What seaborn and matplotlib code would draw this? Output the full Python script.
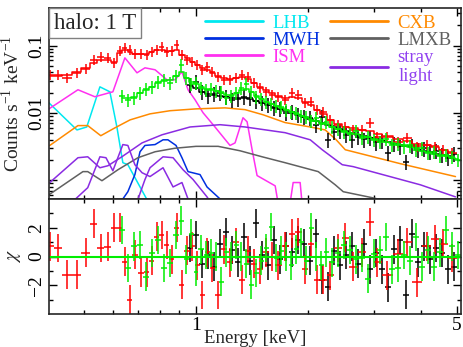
import numpy as np
import matplotlib
matplotlib.use('Agg')
import matplotlib.pyplot as plt
import seaborn as sns
from matplotlib.lines import Line2D
from matplotlib.ticker import LogLocator, NullFormatter, FuncFormatter, FixedLocator

# ---- observed spectra (energy keV, counts/s/keV) ----
red_e = [0.406, 0.427, 0.451, 0.480, 0.507, 0.533, 0.556, 0.581, 0.603, 0.626,
         0.645, 0.666, 0.686, 0.712, 0.739, 0.762, 0.786, 0.811, 0.836, 0.862,
         0.889, 0.917, 0.946, 0.976, 1.006, 1.038, 1.070, 1.104, 1.146, 1.189,
         1.233, 1.280, 1.328, 1.378, 1.431, 1.484, 1.540, 1.598, 1.659, 1.732,
         1.808, 1.877, 1.960, 2.034, 2.111, 2.191, 2.287, 2.403, 2.509, 2.636,
         2.786, 2.928, 3.057, 3.252, 3.480, 3.679, 3.913, 4.162, 4.373, 4.595,
         4.857]
red_data = [0.0368, 0.0368, 0.0332, 0.0394, 0.0452, 0.0614, 0.068, 0.0657, 0.0554, 0.0835,
            0.0925, 0.0864, 0.0754, 0.0754, 0.0728, 0.0807, 0.0864, 0.0957, 0.0807, 0.0835,
            0.1024, 0.0728, 0.0614, 0.0573, 0.0518, 0.0437, 0.0484, 0.0408, 0.0344, 0.0310,
            0.0310, 0.0332, 0.0368, 0.0344, 0.0280, 0.0236, 0.0206, 0.0186, 0.0174, 0.0157,
            0.0199, 0.0186, 0.0142, 0.0147, 0.0112, 0.0104, 0.0079, 0.0067, 0.0062, 0.0056,
            0.0056, 0.0072, 0.0044, 0.0044, 0.0037, 0.0043, 0.0032, 0.0034, 0.0032, 0.00285,
            0.00257]
red_model = [0.0356, 0.0356, 0.0368, 0.0408, 0.0467, 0.0554, 0.0614, 0.0614, 0.0573, 0.0779,
             0.0864, 0.0807, 0.0754, 0.0754, 0.0754, 0.0807, 0.0864, 0.0864, 0.0835, 0.0835,
             0.0864, 0.0728, 0.0657, 0.0573, 0.0518, 0.0467, 0.0437, 0.0394, 0.0356, 0.0332,
             0.0321, 0.0332, 0.0344, 0.0321, 0.0280, 0.0244, 0.0221, 0.0199, 0.0180, 0.0168,
             0.0174, 0.0168, 0.0147, 0.0132, 0.0112, 0.0097, 0.0079, 0.0069, 0.0062, 0.0060,
             0.0056, 0.0054, 0.0049, 0.0046, 0.0041, 0.0039, 0.0035, 0.0033, 0.0031, 0.00285,
             0.00266]
red_chi = [0.7, 0.6, -1.27, -1.27, 0.26, 2.27, 0.6, 0.67, 2.0, 2.0,
           -0.37, -3.0, 0.12, -1.13, -1.1, -0.3, 1.37, 1.5, 0.8, -0.2,
           2.0, -1.97, 0.4, 0.7, -0.6, -2.67, 0.3, -0.8, -2.67, 0.5,
           -0.4, 1.0, -1.6, 0.4, -0.5, -0.9, 0.3, 0.0, -0.6, 0.7,
           1.6, 1.7, -0.9, 0.9, -1.6, -1.6, -1.3, 0.6, 1.3, -0.7,
           0.3, 2.4, -0.4, -1.3, 0.2, 1.0, -1.8, 0.7, 1.2, 0.9,
           -0.1]

green_e = [0.633, 0.657, 0.682, 0.708, 0.734, 0.762, 0.791, 0.821, 0.852, 0.884,
           0.912, 0.940, 0.970, 1.000, 1.031, 1.064, 1.097, 1.131, 1.167, 1.203,
           1.241, 1.280, 1.320, 1.361, 1.404, 1.448, 1.494, 1.540, 1.589, 1.639,
           1.690, 1.743, 1.798, 1.854, 1.912, 1.972, 2.034, 2.098, 2.164, 2.232,
           2.316, 2.403, 2.494, 2.588, 2.685, 2.786, 2.892, 3.001, 3.114, 3.231,
           3.353, 3.480, 3.611, 3.747, 3.889, 4.035, 4.188, 4.346, 4.510, 4.680,
           4.857, 5.040]
green_data = [0.0180, 0.0157, 0.0168, 0.0199, 0.0228, 0.0244, 0.0290, 0.0310, 0.0280, 0.0356,
              0.0518, 0.0332, 0.0271, 0.0280, 0.0236, 0.0221, 0.0228, 0.0213, 0.0206, 0.0168,
              0.0180, 0.0199, 0.0236, 0.0271, 0.0206, 0.0174, 0.0162, 0.0147, 0.0137, 0.0128,
              0.0124, 0.0112, 0.0104, 0.0101, 0.0091, 0.0088, 0.0077, 0.0085, 0.0069, 0.0074,
              0.0062, 0.0058, 0.0053, 0.0049, 0.0054, 0.0043, 0.0044, 0.0040, 0.0037, 0.0041,
              0.0034, 0.0035, 0.0032, 0.0033, 0.00285, 0.0030, 0.00257, 0.00266, 0.00232, 0.0024,
              0.00224, 0.00203]
green_model = [0.0168, 0.0168, 0.0174, 0.0199, 0.0221, 0.0244, 0.0280, 0.0300, 0.0310, 0.0356,
               0.0408, 0.0332, 0.0290, 0.0271, 0.0244, 0.0228, 0.0221, 0.0213, 0.0199, 0.0186,
               0.0186, 0.0199, 0.0221, 0.0228, 0.0206, 0.0180, 0.0162, 0.0147, 0.0137, 0.0128,
               0.0119, 0.0112, 0.0104, 0.0097, 0.0091, 0.0085, 0.0079, 0.0077, 0.0072, 0.0069,
               0.0062, 0.0058, 0.0054, 0.0051, 0.0049, 0.0046, 0.0044, 0.0041, 0.0040, 0.0037,
               0.0036, 0.0034, 0.0033, 0.0031, 0.0030, 0.00275, 0.00266, 0.00249, 0.0024, 0.00232,
               0.00217, 0.0021]
green_chi = [1.85, -0.8, 0.7, 0.8, -1.4, 0.25, 1.15, -0.8, -0.45, 1.5,
             2.5, -0.2, 1.6, -1.05, 0.5, 0.1, 0.25, 0.0, -1.75, 0.3,
             0.0, 0.8, 0.0, -0.5, -1.95, -1.15, -0.3, 0.6, 2.05, -0.1,
             0.4, 0.0, -0.6, 0.5, 1.0, -0.3, 2.0, 0.0, -0.6, 0.3,
             -0.4, 0.25, 0.8, 0.45, -0.2, -0.1, -1.55, 0.2, 0.45, 1.35,
             -0.9, -0.8, 0.1, -0.3, 1.35, -0.7, 0.45, -0.7, 0.3, 1.85,
             0.7, 0.1]

black_e = [0.964, 1.000, 1.038, 1.077, 1.117, 1.160, 1.203, 1.249, 1.296, 1.345,
           1.396, 1.448, 1.503, 1.560, 1.619, 1.680, 1.743, 1.809, 1.877, 1.948,
           2.022, 2.098, 2.177, 2.259, 2.344, 2.433, 2.524, 2.620, 2.719, 2.821,
           2.928, 3.039, 3.153, 3.272, 3.396, 3.524, 3.656, 3.795, 3.937, 4.086,
           4.240, 4.400, 4.566, 4.738, 4.917]
black_data = [0.0262, 0.0290, 0.0206, 0.0180, 0.0193, 0.0199, 0.0174, 0.0157, 0.0162, 0.0174,
              0.0168, 0.0152, 0.0142, 0.0132, 0.0119, 0.0115, 0.0101, 0.0104, 0.0094, 0.0088,
              0.0085, 0.0067, 0.0088, 0.0040, 0.0053, 0.0054, 0.00475, 0.0040, 0.0044, 0.0041,
              0.0043, 0.0037, 0.0039, 0.00257, 0.0035, 0.0032, 0.00189, 0.0033, 0.00285, 0.0030,
              0.00266, 0.00275, 0.0024, 0.00217, 0.00249]
black_model = [0.0253, 0.0236, 0.0206, 0.0193, 0.0186, 0.0180, 0.0174, 0.0168, 0.0168, 0.0168,
               0.0162, 0.0152, 0.0142, 0.0132, 0.0124, 0.0115, 0.0108, 0.0101, 0.0094, 0.0088,
               0.0082, 0.0077, 0.0072, 0.0067, 0.0062, 0.0058, 0.0054, 0.0051, 0.00475, 0.0046,
               0.0043, 0.0041, 0.0039, 0.0037, 0.0035, 0.0034, 0.0032, 0.0031, 0.00285, 0.00275,
               0.00266, 0.00249, 0.0024, 0.00232, 0.00217]
black_chi = [0.6, 1.5, -0.5, 0.1, -0.7, 0.9, 1.7, 0.45, -0.4, 1.35,
             -0.3, 2.3, 0.1, -0.6, 1.15, -0.2, 0.7, 0.3, 1.15, 0.9,
             -0.3, 1.6, -1.6, -2.1, 0.4, -0.6, 0.1, 0.7, -0.5, 0.9,
             -0.9, 0.25, -0.9, -2.15, 0.5, 1.15, -2.65, 1.6, -0.4, 0.7,
             -0.2, 0.6, 0.25, -0.9, -0.7]

# rough fractional 1-sigma errors of the spectra
red_frac_err = 0.17
green_frac_err = 0.22
black_frac_err = 0.25

# ---- model components ----
lhb_e = [0.4035, 0.480, 0.510, 0.553, 0.588, 0.614, 0.637, 0.657, 0.739, 0.762]
lhb_v = [0.0142, 0.0056, 0.0062, 0.0244, 0.0206, 0.0062, 0.00183, 0.00171, 0.00052, 0.00031]

ism_e = [0.401, 0.483, 0.536, 0.599, 0.645, 0.695, 0.730, 0.777, 0.836, 0.878,
         0.917, 0.952, 0.994, 1.044, 1.124, 1.233, 1.272, 1.336, 1.370, 1.413,
         1.457, 1.629, 1.680, 1.765, 1.820, 1.900, 1.936]
ism_v = [0.0112, 0.0221, 0.0174, 0.0206, 0.0657, 0.0394, 0.0467, 0.0437, 0.0310, 0.0310,
         0.0408, 0.0221, 0.0157, 0.0101, 0.0062, 0.0033, 0.0036, 0.0085, 0.0074, 0.00285,
         0.00118, 0.00083, 0.0003, 0.0003, 0.00093, 0.00093, 0.0003]

mwh_e = [0.629, 0.657, 0.686, 0.708, 0.730, 0.777, 0.816, 0.841, 0.884, 0.917,
         0.952, 1.025, 1.070, 1.160, 1.189]
mwh_v = [0.00048, 0.00068, 0.00122, 0.00266, 0.0033, 0.0034, 0.0040, 0.0040, 0.0033, 0.00217,
         0.00135, 0.00122, 0.0008, 0.00053, 0.00044]

cxb_e = [0.406, 0.483, 0.513, 0.556, 0.606, 0.666, 0.753, 0.852, 1.0, 1.196,
         1.353, 1.512, 1.732, 2.022, 2.218, 2.373, 2.509, 3.524, 4.950]
cxb_v = [0.0033, 0.0065, 0.0065, 0.0046, 0.0060, 0.0079, 0.0097, 0.0108, 0.0115, 0.0119,
         0.0112, 0.0094, 0.0072, 0.0062, 0.0056, 0.0040, 0.00285, 0.00177, 0.00114]

lmxb_e = [0.4035, 0.498, 0.513, 0.560, 0.618, 0.699, 0.777, 0.878, 1.0, 1.146,
          1.312, 1.503, 1.732, 2.124, 2.359, 2.478, 2.982, 3.524]
lmxb_v = [0.00061, 0.00135, 0.00135, 0.00099, 0.00144, 0.00217, 0.00266, 0.0030, 0.0032, 0.0032,
          0.00275, 0.00224, 0.00183, 0.00135, 0.00086, 0.00068, 0.00055, 0.00044]

stray1_e = [0.406, 0.483, 0.513, 0.553, 0.581, 0.633, 0.717, 0.811, 0.964, 1.160,
            1.353, 1.732, 2.022, 2.177, 2.463, 2.636, 3.988, 4.950]
stray1_v = [0.00093, 0.00217, 0.00224, 0.00154, 0.00165, 0.00224, 0.0036, 0.00475, 0.0062, 0.0067,
            0.0062, 0.0051, 0.0040, 0.00285, 0.00171, 0.0016, 0.00086, 0.00057]
stray2_e = [0.474, 0.513, 0.553, 0.574, 0.599, 0.637, 0.657, 0.686, 0.717, 0.753,
            0.816, 0.868, 0.917, 0.952, 0.976]
stray2_v = [0.00052, 0.00078, 0.00224, 0.00217, 0.00139, 0.0034, 0.0033, 0.00171, 0.0013, 0.00114,
            0.00154, 0.0008, 0.00093, 0.00053, 0.00036]
stray3_e = [0.695, 0.730, 0.753, 0.816, 0.868, 0.923, 0.982, 1.070, 1.104]
stray3_v = [0.00048, 0.00103, 0.00154, 0.00224, 0.00217, 0.00144, 0.00103, 0.00057, 0.00044]

C_LHB, C_MWH, C_ISM = '#00e8f0', '#0030e0', '#ff30f0'
C_CXB, C_LMXB, C_STRAY = '#ff8a00', '#606060', '#8a2be2'
C_RED, C_GREEN, C_BLACK = '#ff0000', '#00ee00', '#000000'


def halfwidths(e):
    e = np.asarray(e, float)
    mid = np.sqrt(e[1:] * e[:-1])
    lo = np.concatenate([[e[0] ** 2 / mid[0]], mid])
    hi = np.concatenate([mid, [e[-1] ** 2 / mid[-1]]])
    return np.vstack([e - lo, hi - e])


sns.set_theme(style='ticks')
plt.rcParams['font.family'] = ['Liberation Serif', 'DejaVu Serif']
plt.rcParams['mathtext.fontset'] = 'stix'
plt.rcParams['axes.linewidth'] = 1.2

fig = plt.figure(figsize=(4.63, 3.47), dpi=100)
ax = fig.add_axes([0.1058, 0.4265, 0.8898, 0.5504])
ax2 = fig.add_axes([0.1058, 0.0951, 0.8898, 0.3314], sharex=ax)
ax.set_xscale('log')
ax.set_yscale('log')

comps = [(lhb_e, lhb_v, C_LHB), (ism_e, ism_v, C_ISM), (mwh_e, mwh_v, C_MWH),
         (cxb_e, cxb_v, C_CXB), (lmxb_e, lmxb_v, C_LMXB),
         (stray1_e, stray1_v, C_STRAY), (stray2_e, stray2_v, C_STRAY), (stray3_e, stray3_v, C_STRAY)]
for e, v, c in comps:
    sns.lineplot(x=e, y=v, ax=ax, color=c, lw=1.1, estimator=None, sort=False, legend=False)

sets = [(black_e, black_data, black_model, black_chi, black_frac_err, C_BLACK),
        (red_e, red_data, red_model, red_chi, red_frac_err, C_RED),
        (green_e, green_data, green_model, green_chi, green_frac_err, C_GREEN)]
for e, d, m, chi, fe, c in sets:
    xe = halfwidths(e)
    d = np.asarray(d)
    ax.errorbar(e, d, xerr=xe, yerr=d * fe, fmt='none', ecolor=c, elinewidth=1.1, capsize=0)
    sns.lineplot(x=e, y=m, ax=ax, color=c, lw=1.1, drawstyle='steps-mid',
                 estimator=None, sort=False, legend=False)
    ax2.errorbar(e, chi, xerr=xe, yerr=1.0, fmt='none', ecolor=c, elinewidth=1.1, capsize=0)

ax2.axhline(0, color=C_GREEN, lw=1.5)

ax.set_xlim(0.404, 5.12)
ax.set_ylim(5.3e-4, 0.36)
ax2.set_ylim(-4, 4)

fs = 14
ax.yaxis.set_major_locator(LogLocator(base=10, numticks=10))
ax.yaxis.set_minor_locator(LogLocator(base=10, subs=np.arange(2, 10), numticks=20))
ax.yaxis.set_major_formatter(FuncFormatter(lambda v, p: {0.1: '0.1', 0.01: '0.01'}.get(round(v, 6), '')))
ax.yaxis.set_minor_formatter(NullFormatter())
ax2.xaxis.set_major_locator(FixedLocator([1, 5]))
ax2.xaxis.set_major_formatter(FuncFormatter(lambda v, p: '%g' % v))
ax2.xaxis.set_minor_locator(FixedLocator([0.5, 0.6, 0.7, 0.8, 0.9, 2, 3, 4]))
ax2.xaxis.set_minor_formatter(NullFormatter())
ax2.yaxis.set_major_locator(FixedLocator([-2, 0, 2]))
ax2.yaxis.set_minor_locator(FixedLocator([-3, -1, 1, 3]))

for a in (ax, ax2):
    a.tick_params(which='both', direction='in', top=True, right=True, labelsize=fs, width=1.0, colors='black')
    a.tick_params(which='major', length=6)
    a.tick_params(which='minor', length=3)
    a.tick_params(axis='y', labelrotation=90, pad=3)
    for t in a.get_yticklabels():
        t.set_va('center')
ax.tick_params(axis='x', labelbottom=False)
ax2.tick_params(axis='x', pad=2)

ax.set_ylabel(r'Counts s$^{\mathregular{-1}}$ keV$^{\mathregular{-1}}$', fontsize=fs)
ax2.set_ylabel(r'$\chi$', fontsize=fs)
ax2.set_xlabel('Energy [keV]', fontsize=13.5, labelpad=-3)
for a in (ax, ax2):
    a.yaxis.set_label_coords(-0.062, 0.5)

ax.text(0.012, 0.975, 'halo: 1 T', transform=ax.transAxes, fontsize=16.5, va='top', ha='left',
        bbox=dict(boxstyle='square,pad=0.2', fc='white', ec='#808080', lw=1.0))

labels = ['LHB', 'MWH', 'ISM', 'CXB', 'LMXB', 'stray\nlight']
colors = [C_LHB, C_MWH, C_ISM, C_CXB, C_LMXB, '#9040f0']
handles = [Line2D([], [], color=c, lw=2.0) for c in [C_LHB, C_MWH, C_ISM, C_CXB, C_LMXB, C_STRAY]]
leg = ax.legend(handles, labels, ncol=2, loc='upper right', frameon=False, fontsize=13.5,
                handlelength=3.1, handletextpad=0.5, columnspacing=0.5, labelspacing=0.0,
                borderaxespad=0.1, bbox_to_anchor=(1.0, 1.015))
for t, c in zip(leg.get_texts(), colors):
    t.set_color(c)
    t.set_multialignment('center')

fig.savefig('out.png', dpi=100)
